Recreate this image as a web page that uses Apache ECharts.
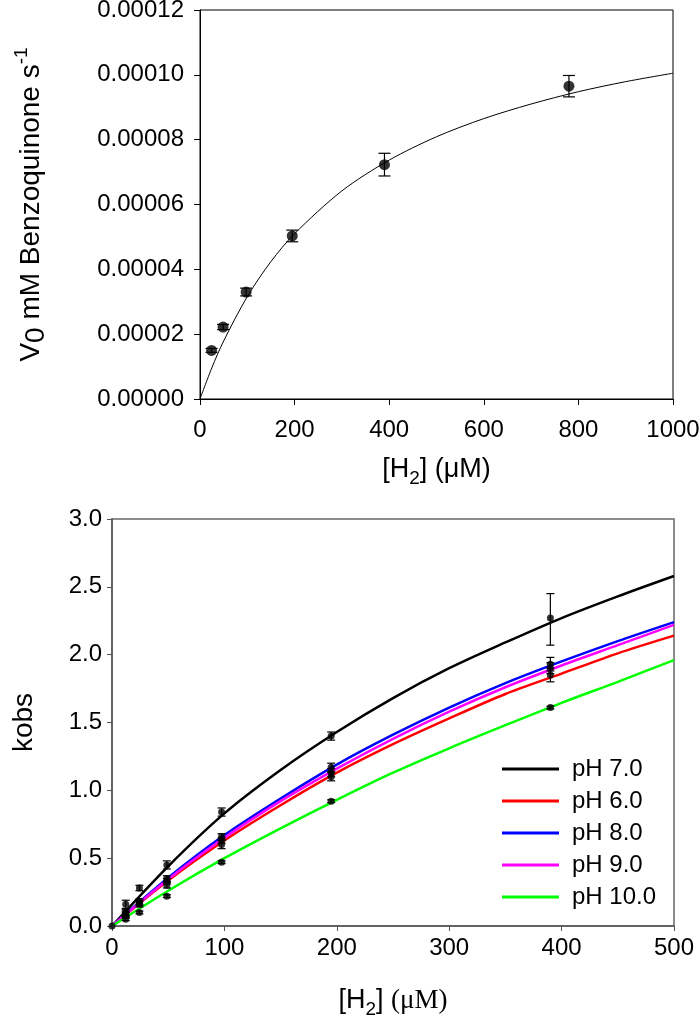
<!DOCTYPE html>
<html><head><meta charset="utf-8">
<script src="https://cdn.jsdelivr.net/npm/echarts@6/dist/echarts.min.js"></script>
<style>html,body{margin:0;padding:0;background:#fff}#c{width:700px;height:1020px}</style>
</head><body><div id="c"></div>
<script>
// ---- Top panel data ----
const topX = [24.4, 48.8, 97.5, 195, 390, 780];
const topY = [0.0000150, 0.0000222, 0.0000330, 0.0000503, 0.0000723, 0.0000965];
const topErr = [0.0000006, 0.0000008, 0.0000012, 0.0000018, 0.0000035, 0.0000033];
const topFitX = [0, 25, 50, 100, 150, 200, 300, 400, 500, 600, 700, 800, 900, 1000];
const topFitY = [0, 0.0000096, 0.0000179, 0.0000316, 0.0000424, 0.0000510, 0.0000642, 0.0000737, 0.0000809, 0.0000865, 0.0000910, 0.0000948, 0.0000979, 0.0001005];

// ---- Bottom panel data ----
const botX = [12.2, 24.4, 48.8, 97.5, 195, 390];
const names = ['pH 7.0', 'pH 6.0', 'pH 8.0', 'pH 9.0', 'pH 10.0'];
const colors = ['#000000', '#ff0000', '#0000ff', '#ff00ff', '#00ff00'];
const ptsPH70 = [0.16, 0.28, 0.45, 0.84, 1.40, 2.27];
const ptsPH60 = [0.08, 0.17, 0.30, 0.60, 1.10, 1.85];
const ptsPH80 = [0.10, 0.18, 0.35, 0.66, 1.17, 1.93];
const ptsPH90 = [0.09, 0.16, 0.33, 0.63, 1.13, 1.90];
const ptsPH100 = [0.05, 0.10, 0.22, 0.47, 0.92, 1.61];
const errLoPH70 = [0.03, 0.02, 0.03, 0.03, 0.03, 0.20];
const errHiPH70 = [0.03, 0.02, 0.03, 0.03, 0.03, 0.18];
const errPH60 = [0.02, 0.02, 0.02, 0.03, 0.03, 0.05];
const errPH80 = [0.02, 0.02, 0.02, 0.02, 0.03, 0.05];
const errPH90 = [0.02, 0.02, 0.02, 0.02, 0.03, 0.04];
const errPH100 = [0.01, 0.01, 0.01, 0.01, 0.01, 0.01];
const fitX = [0, 50, 100, 150, 200, 250, 300, 350, 400, 450, 500];
const fitPH70 = [0, 0.44, 0.83, 1.15, 1.43, 1.68, 1.90, 2.09, 2.27, 2.43, 2.58];
const fitPH60 = [0, 0.335, 0.63, 0.89, 1.13, 1.34, 1.53, 1.71, 1.86, 2.01, 2.14];
const fitPH80 = [0, 0.356, 0.67, 0.94, 1.19, 1.41, 1.61, 1.79, 1.95, 2.10, 2.24];
const fitPH90 = [0, 0.345, 0.65, 0.92, 1.16, 1.38, 1.58, 1.76, 1.92, 2.07, 2.22];
const fitPH100 = [0, 0.26, 0.50, 0.72, 0.93, 1.13, 1.31, 1.48, 1.645, 1.80, 1.96];

const pts = [ptsPH70, ptsPH60, ptsPH80, ptsPH90, ptsPH100];
const errLo = [errLoPH70, errPH60, errPH80, errPH90, errPH100];
const errHi = [errHiPH70, errPH60, errPH80, errPH90, errPH100];
const fits = [fitPH70, fitPH60, fitPH80, fitPH90, fitPH100];

const chart = echarts.init(document.getElementById('c'), null, {renderer: 'canvas'});
const FONT = 'Liberation Sans, Arial, sans-serif';
const SERIF = 'Liberation Serif, Times New Roman, serif';

function errRender(capW, stroke) {
  return function (params, api) {
    const x = api.value(0), lo = api.value(1), hi = api.value(2);
    const a = api.coord([x, lo]), b = api.coord([x, hi]);
    const st = {stroke: stroke, lineWidth: 1.2};
    return {type: 'group', children: [
      {type: 'line', shape: {x1: a[0], y1: a[1], x2: b[0], y2: b[1]}, style: st},
      {type: 'line', shape: {x1: a[0] - capW, y1: a[1], x2: a[0] + capW, y2: a[1]}, style: st},
      {type: 'line', shape: {x1: b[0] - capW, y1: b[1], x2: b[0] + capW, y2: b[1]}, style: st}
    ]};
  };
}

const series = [];
series.push({type: 'line', xAxisIndex: 0, yAxisIndex: 0, data: topFitX.map((x, i) => [x, topFitY[i]]),
  smooth: 0.3, showSymbol: false, lineStyle: {color: '#000', width: 1}, silent: true, z: 2});
series.push({type: 'custom', xAxisIndex: 0, yAxisIndex: 0, renderItem: errRender(6, '#000'),
  data: topX.map((x, i) => [x, topY[i] - topErr[i], topY[i] + topErr[i]]), z: 3, silent: true});
series.push({type: 'scatter', xAxisIndex: 0, yAxisIndex: 0, data: topX.map((x, i) => [x, topY[i]]),
  symbol: 'circle', symbolSize: 11, itemStyle: {color: '#000'}, z: 4, silent: true});

for (let s = 0; s < 5; s++) {
  series.push({name: names[s], type: 'line', xAxisIndex: 1, yAxisIndex: 1,
    data: fitX.map((x, i) => [x, fits[s][i]]), smooth: 0.3, showSymbol: false,
    lineStyle: {color: colors[s], width: 2.5}, itemStyle: {color: colors[s]}, silent: true, z: 2});
}
for (let s = 0; s < 5; s++) {
  series.push({type: 'custom', xAxisIndex: 1, yAxisIndex: 1, renderItem: errRender(4, '#000'),
    data: botX.map((x, i) => [x, pts[s][i] - errLo[s][i], pts[s][i] + errHi[s][i]]), z: 3, silent: true});
  series.push({type: 'scatter', xAxisIndex: 1, yAxisIndex: 1, data: botX.map((x, i) => [x, pts[s][i]]),
    symbol: 'circle', symbolSize: 7, itemStyle: {color: '#000'}, z: 4, silent: true});
}
series.push({type: 'scatter', xAxisIndex: 1, yAxisIndex: 1, data: [[0, 0]], symbol: 'circle', symbolSize: 7,
  itemStyle: {color: '#000'}, z: 5, silent: true});

const labelStyle = {color: '#000', fontSize: 24, fontFamily: FONT};

chart.setOption({
  animation: false,
  backgroundColor: '#fff',
  grid: [
    {left: 200, top: 10, width: 473, height: 389, show: true, borderColor: '#000', borderWidth: 1,
      containLabel: false, outerBoundsMode: 'none'},
    {left: 112, top: 519, width: 562, height: 407, show: true, borderColor: '#666', borderWidth: 1.5,
      containLabel: false, outerBoundsMode: 'none'}
  ],
  legend: {
    data: names, orient: 'vertical', left: 497, top: 752, itemGap: 8, itemWidth: 57, itemHeight: 3,
    icon: 'rect', textStyle: {color: '#000', fontSize: 24, fontFamily: FONT, padding: [0, 0, 0, 8]}
  },
  xAxis: [
    {gridIndex: 0, type: 'value', min: 0, max: 1000, interval: 200,
      axisLine: {show: true, onZero: false, lineStyle: {color: '#000', width: 1}},
      axisTick: {show: true, inside: false, length: 6, lineStyle: {color: '#000'}},
      axisLabel: Object.assign({margin: 19, formatter: v => String(v)}, labelStyle), splitLine: {show: false},
      name: '{a|[H}{s|2}{a|] (μM)}', nameLocation: 'middle', nameGap: 53,
      nameTextStyle: {rich: {
        a: {fontSize: 27, fontFamily: FONT, color: '#000', lineHeight: 36, verticalAlign: 'middle'},
        s: {fontSize: 19, fontFamily: FONT, color: '#000', lineHeight: 36, verticalAlign: 'bottom', padding: [10, 0, 0, 0]}
      }}},
    {gridIndex: 1, type: 'value', min: 0, max: 500, interval: 100,
      axisLine: {show: true, onZero: false, lineStyle: {color: '#555', width: 1.5}},
      axisTick: {show: true, inside: false, length: 5, lineStyle: {color: '#555'}},
      axisLabel: Object.assign({margin: 10, formatter: v => String(v)}, labelStyle), splitLine: {show: false},
      name: '{a|[H}{s|2}{a|] }{b|(μM)}', nameLocation: 'middle', nameGap: 57,
      nameTextStyle: {rich: {
        a: {fontSize: 27, fontFamily: FONT, color: '#000', lineHeight: 36, verticalAlign: 'middle'},
        s: {fontSize: 19, fontFamily: FONT, color: '#000', lineHeight: 36, verticalAlign: 'bottom', padding: [10, 0, 0, 0]},
        b: {fontSize: 27, fontFamily: SERIF, color: '#000', lineHeight: 36, verticalAlign: 'middle'}
      }}}
  ],
  yAxis: [
    {gridIndex: 0, type: 'value', min: 0, max: 0.00012, interval: 0.00002,
      axisLine: {show: true, onZero: false, lineStyle: {color: '#000', width: 1}},
      axisTick: {show: true, inside: false, length: 6, lineStyle: {color: '#000'}},
      axisLabel: Object.assign({margin: 16, formatter: v => v.toFixed(5)}, labelStyle), splitLine: {show: false},
      name: '{a|V}{s|0}{a| mM Benzoquinone s}{p|-1}', nameLocation: 'middle', nameGap: 150, nameRotate: 90,
      nameTextStyle: {rich: {
        a: {fontSize: 28, fontFamily: FONT, color: '#000', lineHeight: 38, verticalAlign: 'middle'},
        s: {fontSize: 28, fontFamily: FONT, color: '#000', lineHeight: 38, verticalAlign: 'bottom', padding: [8, 0, 0, 0]},
        p: {fontSize: 19, fontFamily: FONT, color: '#000', lineHeight: 38, verticalAlign: 'top', padding: [0, 0, 12, 0]}
      }}},
    {gridIndex: 1, type: 'value', min: 0, max: 3, interval: 0.5,
      axisLine: {show: true, onZero: false, lineStyle: {color: '#555', width: 1.5}},
      axisTick: {show: true, inside: false, length: 5, lineStyle: {color: '#555'}},
      axisLabel: Object.assign({margin: 10, formatter: v => v.toFixed(1)}, labelStyle), splitLine: {show: false},
      name: 'kobs', nameLocation: 'middle', nameGap: 74, nameRotate: 90,
      nameTextStyle: {fontSize: 28, fontFamily: FONT, color: '#000'}}
  ],
  series: series
});
</script>
</body></html>
